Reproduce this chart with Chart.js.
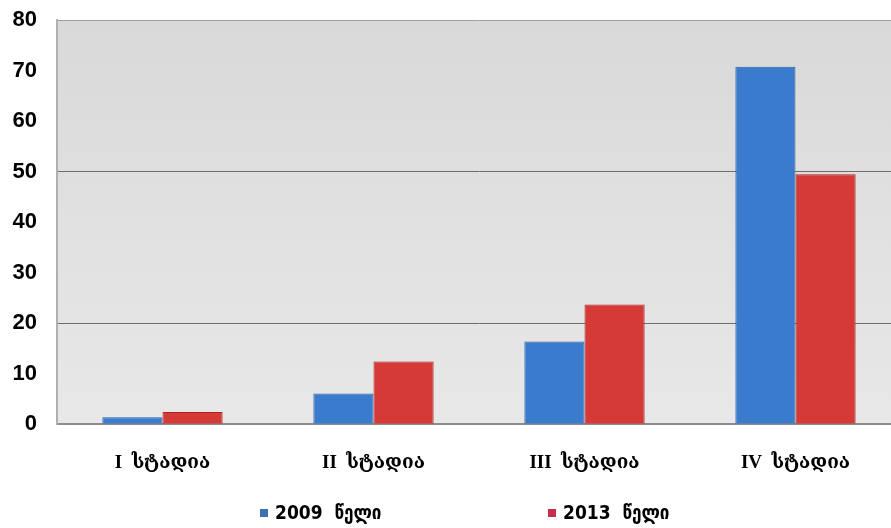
<!DOCTYPE html>
<html>
<head>
<meta charset="utf-8">
<script src="https://cdn.jsdelivr.net/npm/chart.js@4"></script>
<style>
    body { margin: 0; background: #fff; overflow: hidden; }
    #wrap { position: absolute; left: 0; top: -13px; width: 901px; height: 541px; }
</style>
</head>
<body>
<div id="wrap"><canvas id="chart"></canvas></div>
<script>
// =====================
// DATA
// =====================
let stages = ["I  სტადია", "II  სტადია", "III  სტადია", "IV  სტადია"];
let years = ["2009  წელი", "2013  წელი"];
let values2009 = [1.4, 6.1, 16.4, 70.8];
let values2013 = [2.4, 12.4, 23.7, 49.5];
let yTicks = [0, 10, 20, 30, 40, 50, 60, 70, 80];

let blue = "#3b7bcd";
let red = "#d63a36";
let legendColors = ["#3b6fb4", "#c4304c"];

// =====================
// PLUGINS
// =====================
// gray plot background
let plotBg = {
    id: "plotBg",
    beforeDraw(chart) {
        let a = chart.chartArea;
        let ctx = chart.ctx;
        let g = ctx.createLinearGradient(0, a.top, 0, a.bottom);
        g.addColorStop(0, "#d9d9d9");
        g.addColorStop(1, "#e8e8e8");
        ctx.save();
        ctx.fillStyle = g;
        ctx.fillRect(a.left, a.top, a.right - a.left, a.bottom - a.top);
        ctx.restore();
    }
};

// legend drawn by hand, wide gap between the two items
let bottomLegend = {
    id: "bottomLegend",
    afterDraw(chart) {
        let ctx = chart.ctx;
        ctx.save();
        ctx.font = "bold 19px 'Liberation Sans Narrow', 'DejaVu Sans Condensed', 'DejaVu Sans'";
        ctx.textBaseline = "middle";
        let y = 527;
        let xs = [260, 548];
        chart.data.datasets.forEach((ds, i) => {
            ctx.fillStyle = legendColors[i];
            ctx.fillRect(xs[i], y - 5, 8, 8);
            ctx.fillStyle = "#000";
            ctx.fillText(ds.label, xs[i] + 15, y);
        });
        ctx.restore();
    }
};

// =====================
// CHART
// =====================
new Chart(document.getElementById("chart"), {
    type: "bar",
    data: {
        labels: stages,
        datasets: [
            {
                label: years[0],
                data: values2009,
                backgroundColor: blue,
                borderColor: "#2a5fa8",
                borderWidth: 1
            },
            {
                label: years[1],
                data: values2013,
                backgroundColor: red,
                borderColor: "#a82424",
                borderWidth: 1
            }
        ]
    },
    options: {
        responsive: true,
        maintainAspectRatio: false,
        animation: false,
        layout: { padding: { top: 0, right: 0, bottom: 35, left: 0 } },
        datasets: {
            bar: { categoryPercentage: 0.57, barPercentage: 1 }
        },
        plugins: {
            legend: { display: false },
            tooltip: { enabled: false }
        },
        scales: {
            x: {
                grid: { display: false },
                border: { color: "#8c8c8c", width: 2 },
                ticks: {
                    color: "#000",
                    padding: 19,
                    maxRotation: 0,
                    font: { family: "'Liberation Serif', 'DejaVu Serif'", size: 19, weight: "bold" }
                }
            },
            y: {
                min: 0,
                max: 80,
                afterBuildTicks: axis => {
                    axis.ticks = yTicks.map(v => ({ value: v }));
                },
                afterFit: axis => { axis.width = 57; },
                grid: {
                    drawTicks: false,
                    color: ctx => {
                        let v = ctx.tick.value;
                        if (v === 20 || v === 50) return "#6e6e6e";
                        if (v === 80) return "#a0a0a0";
                        return "rgba(0,0,0,0)";
                    }
                },
                border: { color: "#b0b0b0", width: 2 },
                ticks: {
                    color: "#000",
                    padding: 20,
                    font: { family: "'Liberation Sans', Arial", size: 22, weight: "bold" }
                }
            }
        }
    },
    plugins: [plotBg, bottomLegend]
});
</script>
</body>
</html>
